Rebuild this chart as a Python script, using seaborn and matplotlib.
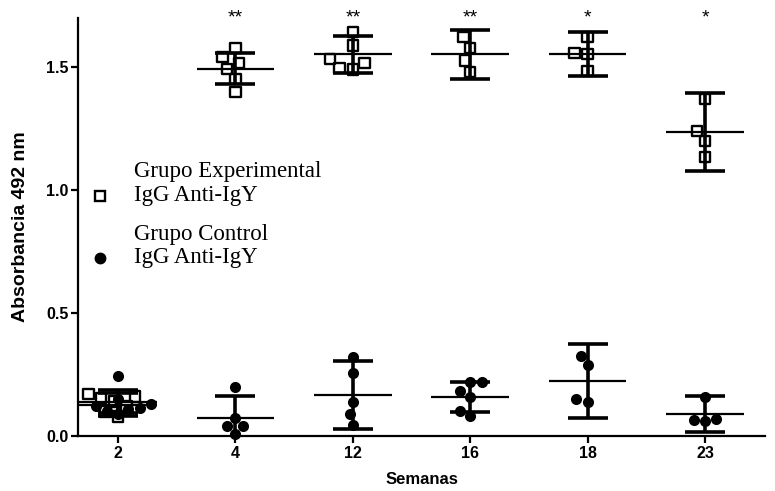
import numpy as np
import pandas as pd
import matplotlib
matplotlib.use("Agg")
import matplotlib.pyplot as plt
from matplotlib.lines import Line2D
import seaborn as sns

# ---------------- data ----------------
weeks = ["2", "4", "12", "16", "18", "23"]

exp_w2 = [0.17, 0.16, 0.155, 0.14, 0.12, 0.10, 0.08]
exp_w4 = [1.577, 1.541, 1.516, 1.492, 1.451, 1.398]
exp_w12 = [1.642, 1.589, 1.533, 1.516, 1.496, 1.49]
exp_w16 = [1.622, 1.577, 1.528, 1.48]
exp_w18 = [1.622, 1.557, 1.553, 1.484]
exp_w23 = [1.37, 1.24, 1.199, 1.134]

ctrl_w2 = [0.245, 0.15, 0.12, 0.115, 0.11, 0.10, 0.09, 0.13]
ctrl_w4 = [0.20, 0.073, 0.041, 0.041, 0.008]
ctrl_w12 = [0.321, 0.256, 0.138, 0.089, 0.045]
ctrl_w16 = [0.22, 0.22, 0.183, 0.159, 0.102, 0.081]
ctrl_w18 = [0.325, 0.289, 0.15, 0.138]
ctrl_w23 = [0.16, 0.07, 0.065, 0.06]

exp_mean = [0.128, 1.493, 1.553, 1.553, 1.553, 1.236]
exp_sd = [0.048, 0.063, 0.075, 0.100, 0.090, 0.158]
ctrl_mean = [0.140, 0.073, 0.167, 0.159, 0.224, 0.090]
ctrl_sd = [0.048, 0.090, 0.140, 0.060, 0.152, 0.072]

stars = ["", "**", "**", "**", "*", "*"]

legend_exp = ["Grupo Experimental", "IgG Anti-IgY"]
legend_ctrl = ["Grupo Control", "IgG Anti-IgY"]

# ---------------- build tables ----------------
exp_lists = [exp_w2, exp_w4, exp_w12, exp_w16, exp_w18, exp_w23]
ctrl_lists = [ctrl_w2, ctrl_w4, ctrl_w12, ctrl_w16, ctrl_w18, ctrl_w23]

def long_table(lists):
    rows = []
    for w, vals in zip(weeks, lists):
        for v in vals:
            rows.append({"week": w, "value": v})
    return pd.DataFrame(rows)

df_exp = long_table(exp_lists)
df_ctrl = long_table(ctrl_lists)

# ---------------- plot ----------------
sns.set_style("ticks")
plt.rcParams["font.family"] = ["Liberation Sans", "DejaVu Sans"]
plt.rcParams["text.color"] = "black"
plt.rcParams["axes.labelcolor"] = "black"
plt.rcParams["xtick.color"] = "black"
plt.rcParams["ytick.color"] = "black"

fig = plt.figure(figsize=(7.75, 4.91), dpi=100)
ax = fig.add_axes([78 / 775, 1 - 436 / 491, (765 - 78) / 775, (436 - 18) / 491])

n_before = len(ax.collections)
sns.swarmplot(data=df_exp, x="week", y="value", order=weeks, marker="s",
              size=7.5, color="black", ax=ax, zorder=2)
for c in ax.collections[n_before:]:
    c.set_facecolor("none")
    c.set_edgecolor("black")
    c.set_linewidth(1.7)
    c.set_clip_on(False)

n_before = len(ax.collections)
sns.swarmplot(data=df_ctrl, x="week", y="value", order=weeks, marker="o",
              size=8, color="black", linewidth=0, ax=ax, zorder=2)
for c in ax.collections[n_before:]:
    c.set_clip_on(False)

pos = np.arange(len(weeks))
for means, sds in [(exp_mean, exp_sd), (ctrl_mean, ctrl_sd)]:
    ax.hlines(means, pos - 0.33, pos + 0.33, colors="black", lw=1.6, zorder=3)
    ax.errorbar(pos, means, yerr=sds, fmt="none", ecolor="black",
                elinewidth=2.6, capsize=14.4, capthick=2.6, zorder=3)

for p, s in zip(pos, stars):
    if s:
        ax.text(p, 1.70, s, ha="center", va="center", fontsize=14,
                clip_on=False, color="black")

ax.set_xlim(-0.34, 5.51)
ax.set_ylim(0, 1.7)
ax.set_yticks([0.0, 0.5, 1.0, 1.5])
ax.set_yticklabels(["0.0", "0.5", "1.0", "1.5"])
ax.set_xticks(pos)
ax.set_xticklabels(weeks)
for lab in ax.get_xticklabels() + ax.get_yticklabels():
    lab.set_fontweight("bold")
    lab.set_fontsize(11.5)

ax.set_xlabel("Semanas", fontsize=12, fontweight="bold")
ax.xaxis.set_label_coords(0.5, -(480 - 436) / 418, transform=None)
ax.xaxis.label.set_verticalalignment("center")
ax.set_ylabel("Absorbancia 492 nm", fontsize=14, fontweight="bold")
ax.yaxis.label.set_verticalalignment("center")

for side in ["top", "right"]:
    ax.spines[side].set_visible(False)
for side in ["left", "bottom"]:
    ax.spines[side].set_linewidth(1.6)
    ax.spines[side].set_color("black")
ax.tick_params(axis="both", direction="out", length=5, width=1.6, colors="black", pad=2)

# label positions in axes coordinates
ax.xaxis.set_label_coords(0.5, -(480 - 436) / 418)
ax.yaxis.set_label_coords((21 - 78) / 687, 0.5)

# manual legend (markers aligned with the second text line)
def fy(py):
    return 1 - py / 491

fig.add_artist(Line2D([100 / 775], [fy(196)], transform=fig.transFigure,
                      marker="s", markerfacecolor="none", markeredgecolor="black",
                      markeredgewidth=1.7, markersize=7, linestyle="none"))
fig.add_artist(Line2D([100 / 775], [fy(258)], transform=fig.transFigure,
                      marker="o", markerfacecolor="black", markeredgecolor="black",
                      markersize=7.5, linestyle="none"))
for txt, py in zip(legend_exp + legend_ctrl, [172, 196, 235, 258]):
    fig.text(134 / 775, fy(py), txt, ha="left", va="center",
             fontsize=16.5, family="Liberation Serif", color="black")

fig.savefig("out.png", dpi=100)
